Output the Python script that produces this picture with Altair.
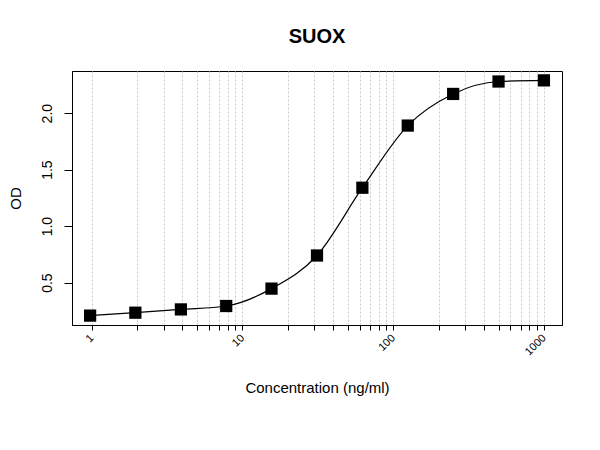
import pandas as pd
import altair as alt

# Dilution series (ng/ml) and measured OD
concentration = [0.977, 1.95, 3.91, 7.81, 15.6, 31.25, 62.5, 125, 250, 500, 1000]
od = [0.208, 0.234, 0.263, 0.293, 0.447, 0.74, 1.34, 1.89, 2.17, 2.28, 2.29]

# Log axis ticks: 1..9 per decade, labels only on powers of ten
x_ticks = [1, 2, 3, 4, 5, 6, 7, 8, 9,
           10, 20, 30, 40, 50, 60, 70, 80, 90,
           100, 200, 300, 400, 500, 600, 700, 800, 900, 1000]
x_labels = [1, 10, 100, 1000]
y_ticks = [0.5, 1.0, 1.5, 2.0]

df = pd.DataFrame({"conc": concentration, "od": od})

FONT = "Liberation Sans"

x_scale = alt.Scale(type="log", domain=[0.741, 1318], nice=False)
y_scale = alt.Scale(domain=[0.125, 2.373], nice=False, zero=False)

label_test = "indexof(%s, datum.value) >= 0 ? datum.value : ''" % str(x_labels)

x_axis = alt.Axis(
    values=x_ticks,
    labelExpr=label_test,
    labelAngle=315, labelAlign="right", labelBaseline="middle",
    labelFontSize=11, labelFont=FONT, labelColor="black", labelPadding=6,
    labelOverlap=False, labelFlush=False,
    tickSize=5, tickColor="black", domainColor="black",
    grid=True, gridColor="#c8c8c8", gridDash=[2, 2], gridWidth=1,
    title="Concentration (ng/ml)", titleFont=FONT, titleFontSize=15,
    titleFontWeight="normal", titleColor="black", titlePadding=24,
)
y_axis = alt.Axis(
    values=y_ticks, format=".1f",
    labelAngle=270, labelAlign="center", labelBaseline="bottom",
    labelFontSize=14, labelFont=FONT, labelColor="black", labelPadding=10,
    tickSize=8, tickColor="black", domainColor="black", grid=False,
    title="OD", titleFont=FONT, titleFontSize=15, titleFontWeight="normal",
    titleColor="black", titlePadding=17,
)

base = alt.Chart(df).encode(
    x=alt.X("conc:Q", scale=x_scale, axis=x_axis),
    y=alt.Y("od:Q", scale=y_scale, axis=y_axis),
)

curve = base.mark_line(color="black", strokeWidth=1.2, interpolate="monotone")
points = base.mark_point(shape="square", filled=True, size=150, color="black", opacity=1)

chart = alt.layer(curve, points).properties(
    width=490, height=254,
    title=alt.TitleParams("SUOX", font=FONT, fontSize=20, fontWeight="bold",
                          color="black", anchor="middle", offset=24),
    autosize=alt.AutoSizeParams(type="none"),
    padding={"left": 64, "top": 63, "right": 30, "bottom": 117},
).configure_view(stroke="black", strokeWidth=1)

chart.save("out.html", embed_options={"renderer": "svg", "actions": False})
